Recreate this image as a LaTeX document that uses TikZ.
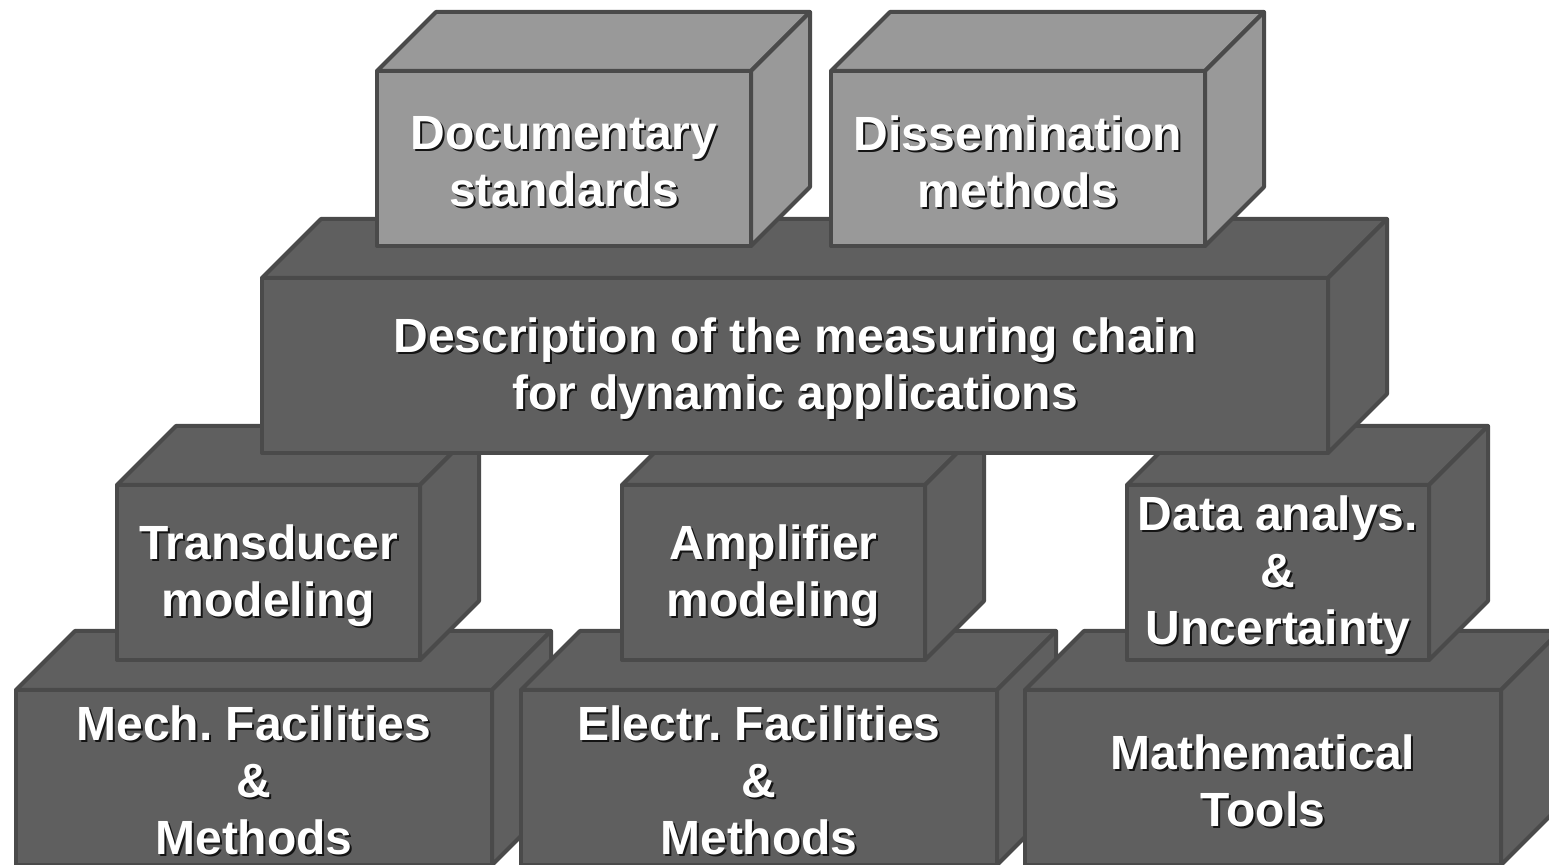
\documentclass[tikz,border=0pt]{standalone}
\usepackage{fontspec}
\setmainfont{Liberation Sans}
\frenchspacing
\definecolor{boxdark}{RGB}{95,95,95}
\definecolor{boxlight}{RGB}{153,153,153}
\definecolor{edgec}{RGB}{74,74,74}
\definecolor{shadowc}{RGB}{20,20,20}
\tikzset{
  face/.style={draw=edgec, line width=2pt, line join=round},
  lbl/.style={text=white, font=\bfseries\fontsize{24}{28.5}\selectfont, align=center, inner sep=0pt},
  lblshadow/.style={lbl, text=shadowc},
}
% name, x, y (front top-left, px), w, h, fill, text
\newcommand\cuboid[7]{%
  \draw[face, fill=#6] (#2,#3) -- ++(59,-59) -- ++(#4,0) -- ++(-59,59) -- cycle;
  \draw[face, fill=#6] ({#2+#4},#3) -- ++(59,-59) -- ++(0,#5) -- ++(-59,59) -- cycle;
  \draw[face, fill=#6] (#2,#3) rectangle ++(#4,#5);
  \node[lblshadow] (#1s) at ({#2+#4/2+2},{#3+#5/2+5}) {#7};
  \node[lbl] (#1) at ({#2+#4/2},{#3+#5/2+3}) {#7};
}
\begin{document}
\begin{tikzpicture}[x=0.5pt, y=-0.5pt]
  \useasboundingbox (0,0) rectangle (1549,865);
  \clip (0,0) rectangle (1549,865);
  % bottom row
  \cuboid{mech}{16}{690}{476}{175}{boxdark}{Mech. Facilities\\\&\\Methods}
  \cuboid{electr}{521}{690}{476}{175}{boxdark}{Electr. Facilities\\\&\\Methods}
  \cuboid{math}{1025}{690}{476}{175}{boxdark}{Mathematical\\Tools}
  % middle row
  \cuboid{trans}{117}{485}{303}{175}{boxdark}{Transducer\\modeling}
  \cuboid{amp}{622}{485}{303}{175}{boxdark}{Amplifier\\modeling}
  \cuboid{data}{1127}{485}{302}{175}{boxdark}{Data analys.\\\&\\Uncertainty}
  % big box
  \cuboid{desc}{262}{278}{1066}{175}{boxdark}{Description of the measuring chain\\for dynamic applications}
  % top row
  \cuboid{doc}{377}{71}{374}{175}{boxlight}{Documentary\\standards}
  \cuboid{diss}{831}{71}{374}{175}{boxlight}{Dissemination\\methods}
\end{tikzpicture}
\end{document}
